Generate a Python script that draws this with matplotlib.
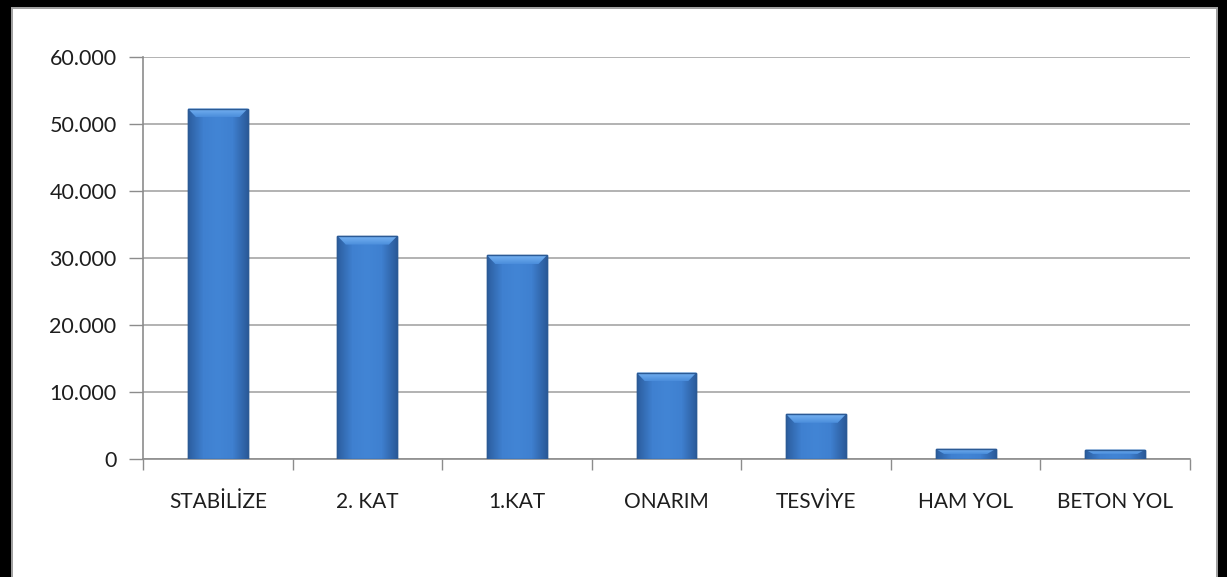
import matplotlib
matplotlib.use("Agg")
import matplotlib.pyplot as plt
import numpy as np
from matplotlib.ticker import FuncFormatter, FixedLocator
from matplotlib.patches import Rectangle, Polygon
from matplotlib.colors import LinearSegmentedColormap

categories = ["STABİLİZE", "2. KAT", "1.KAT", "ONARIM", "TESVİYE", "HAM YOL", "BETON YOL"]
values = [52300, 33300, 30400, 12900, 6700, 1500, 1400]
y_ticks = [0, 10000, 20000, 30000, 40000, 50000, 60000]

plt.rcParams['font.family'] = ['Lato', 'DejaVu Sans']

W, H = 1227, 577
fig = plt.figure(figsize=(W / 100, H / 100), dpi=100)
ax = fig.add_axes([143 / W, 1 - 459 / H, (1190 - 143) / W, (459 - 57) / H])

x = np.arange(len(categories))
bars = ax.bar(x, values, width=0.4, color="#3E7FCF", edgecolor="#2B5A95", linewidth=1.0, zorder=3)

cmap = LinearSegmentedColormap.from_list("b", ["#2C5E9F", "#3F80D0", "#4285D5", "#3F80D0", "#2B5B9B"])
top_cmap = LinearSegmentedColormap.from_list("t", ["#4A8DDB", "#78B4F3"])
for b in bars:
    bx, by = b.get_x(), b.get_y()
    bw, bh = b.get_width(), b.get_height()
    im = ax.imshow(np.linspace(0, 1, 64)[None, :], cmap=cmap, aspect="auto",
                   extent=[bx, bx + bw, by, by + bh], zorder=3.5, interpolation="bilinear")
    im.set_clip_path(b)
    # top bevel (trapezoid with vertical gradient)
    th = min(bh * 0.5, 1300)
    ins = bw * 0.14
    trap = Polygon([(bx, by + bh), (bx + bw, by + bh), (bx + bw - ins, by + bh - th), (bx + ins, by + bh - th)],
                   closed=True, facecolor="none", edgecolor="none", zorder=4)
    ax.add_patch(trap)
    im2 = ax.imshow(np.linspace(0, 1, 32)[:, None], cmap=top_cmap, aspect="auto", origin="lower",
                    extent=[bx, bx + bw, by + bh - th, by + bh], zorder=4, interpolation="bilinear")
    im2.set_clip_path(trap)
    ax.add_patch(Rectangle((bx, by), bw, bh, facecolor="none", edgecolor="#2B5A95", linewidth=1.0, zorder=5))

ax.set_xlim(-0.5, len(categories) - 0.5)
ax.set_ylim(0, 60000)
ax.yaxis.set_major_locator(FixedLocator(y_ticks))
ax.yaxis.set_major_formatter(FuncFormatter(lambda v, p: f"{int(v):,}".replace(",", ".")))
ax.grid(axis="y", color="#A6A6A6", linewidth=1.2, zorder=1)
ax.set_xticks(x)
ax.set_xticklabels(categories, fontsize=15, color="#1E1E1E")
ax.set_xticks(np.arange(-0.5, len(categories)), minor=True)
ax.tick_params(axis="x", which="major", length=0, pad=23.5)
ax.tick_params(axis="x", which="minor", length=8, color="#8C8C8C", width=1)
ax.tick_params(axis="y", length=10, color="#8C8C8C", width=1, labelsize=15.5, labelcolor="#1E1E1E", pad=9)
for s in ["top", "right"]:
    ax.spines[s].set_visible(False)
for s in ["left", "bottom"]:
    ax.spines[s].set_color("#8C8C8C")
    ax.spines[s].set_linewidth(1.2)

# outer frame (black border on left, top and right)
fig.patches.append(Rectangle((0, 0), 11 / W, 1, transform=fig.transFigure, facecolor="black", edgecolor="none"))
fig.patches.append(Rectangle((0, 1 - 7 / H), 1, 7 / H, transform=fig.transFigure, facecolor="black", edgecolor="none"))
fig.patches.append(Rectangle((1 - 9 / W, 0), 9 / W, 1, transform=fig.transFigure, facecolor="black", edgecolor="none"))
fig.patches.append(Rectangle((11 / W, 0), 2 / W, 1 - 7 / H, transform=fig.transFigure, facecolor="#A0A0A0", edgecolor="none"))
fig.patches.append(Rectangle((1 - 11 / W, 0), 2 / W, 1 - 7 / H, transform=fig.transFigure, facecolor="#A0A0A0", edgecolor="none"))
fig.patches.append(Rectangle((11 / W, 1 - 9 / H), 1 - 22 / W, 2 / H, transform=fig.transFigure, facecolor="#A0A0A0", edgecolor="none"))

fig.savefig("out.png", dpi=100)
